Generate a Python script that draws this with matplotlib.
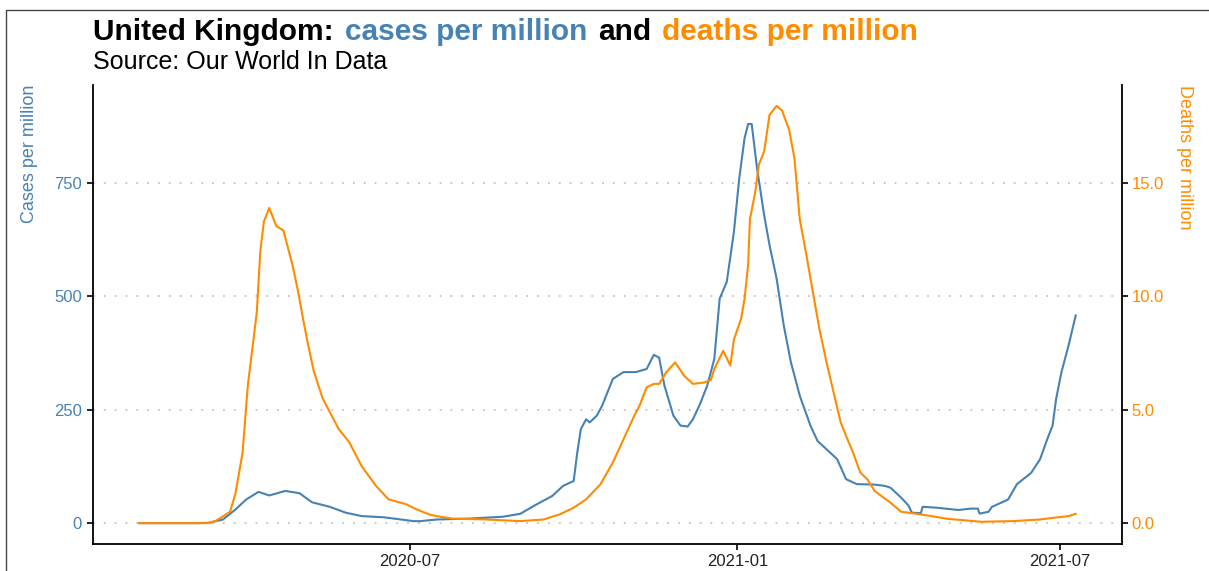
import matplotlib
matplotlib.use('Agg')
import matplotlib.pyplot as plt
import matplotlib.dates as mdates
import matplotlib.ticker as mticker
import pandas as pd
from matplotlib.patches import Rectangle

# ---------------- data ----------------
case_dates = ['2020-01-31', '2020-03-03', '2020-03-10', '2020-03-18', '2020-03-25', '2020-03-31',
              '2020-04-07', '2020-04-13', '2020-04-22', '2020-04-30', '2020-05-07', '2020-05-17',
              '2020-05-26', '2020-06-04', '2020-06-16', '2020-06-23', '2020-07-03', '2020-07-07',
              '2020-07-16', '2020-08-03', '2020-08-22', '2020-09-01', '2020-09-10', '2020-09-19',
              '2020-09-25', '2020-10-01', '2020-10-03', '2020-10-05', '2020-10-08', '2020-10-10',
              '2020-10-14', '2020-10-17', '2020-10-23', '2020-10-29', '2020-11-05', '2020-11-11',
              '2020-11-15', '2020-11-18', '2020-11-21', '2020-11-26', '2020-11-30', '2020-12-04',
              '2020-12-07', '2020-12-11', '2020-12-15', '2020-12-19', '2020-12-22', '2020-12-26',
              '2020-12-30', '2021-01-02', '2021-01-05', '2021-01-07', '2021-01-09', '2021-01-12',
              '2021-01-16', '2021-01-19', '2021-01-23', '2021-01-27', '2021-01-31', '2021-02-05',
              '2021-02-11', '2021-02-15', '2021-02-20', '2021-02-26', '2021-03-03', '2021-03-09',
              '2021-03-19', '2021-03-25', '2021-03-28', '2021-04-03', '2021-04-07', '2021-04-09',
              '2021-04-14', '2021-04-15', '2021-04-23', '2021-05-05', '2021-05-12', '2021-05-16',
              '2021-05-17', '2021-05-22', '2021-05-24', '2021-06-02', '2021-06-07', '2021-06-15',
              '2021-06-20', '2021-06-24', '2021-06-27', '2021-06-29', '2021-07-02', '2021-07-06',
              '2021-07-10']
cases = [0, 0, 0.7, 8, 30, 52,
         69, 61, 71, 66, 46, 36,
         23, 15.5, 13, 9.6, 4.4, 4.4,
         8, 10, 14, 20.6, 41, 60,
         82, 93, 155, 207, 229, 222,
         237, 259, 318, 333, 333, 340,
         371, 365, 303, 237, 215, 213,
         229, 263, 303, 362, 495, 532,
         642, 760, 849, 880, 880, 782,
         679, 613, 539, 436, 355, 281,
         215, 181, 163, 141, 97, 86,
         85, 82, 78, 56, 39, 23,
         22, 36, 34, 29, 32, 32,
         21, 25, 36, 52, 86, 111,
         141, 185, 215, 274, 333, 392,
         458]

death_dates = ['2020-01-31', '2020-03-10', '2020-03-14', '2020-03-22', '2020-03-25', '2020-03-29',
               '2020-04-01', '2020-04-04', '2020-04-06', '2020-04-08', '2020-04-10', '2020-04-13',
               '2020-04-17', '2020-04-21', '2020-04-23', '2020-04-26', '2020-04-29', '2020-05-02',
               '2020-05-05', '2020-05-08', '2020-05-13', '2020-05-17', '2020-05-22', '2020-05-28',
               '2020-06-04', '2020-06-12', '2020-06-19', '2020-06-29', '2020-07-05', '2020-07-12',
               '2020-07-16', '2020-07-25', '2020-08-13', '2020-09-01', '2020-09-14', '2020-09-23',
               '2020-10-01', '2020-10-08', '2020-10-16', '2020-10-23', '2020-10-29', '2020-11-04',
               '2020-11-07', '2020-11-11', '2020-11-15', '2020-11-18', '2020-11-22', '2020-11-27',
               '2020-12-02', '2020-12-07', '2020-12-13', '2020-12-17', '2020-12-19', '2020-12-24',
               '2020-12-28', '2020-12-30', '2021-01-03', '2021-01-05', '2021-01-07', '2021-01-08',
               '2021-01-11', '2021-01-13', '2021-01-16', '2021-01-19', '2021-01-23', '2021-01-26',
               '2021-01-30', '2021-02-02', '2021-02-05', '2021-02-09', '2021-02-13', '2021-02-16',
               '2021-02-20', '2021-02-24', '2021-02-28', '2021-03-03', '2021-03-07', '2021-03-11',
               '2021-03-15', '2021-03-19', '2021-03-23', '2021-03-28', '2021-04-03', '2021-04-10',
               '2021-04-20', '2021-04-29', '2021-05-18', '2021-06-05', '2021-06-20', '2021-06-28',
               '2021-07-06', '2021-07-10']
deaths = [0, 0, 0.1, 0.5, 1.3, 3.1,
          6.1, 8.0, 9.3, 12.0, 13.3, 13.9,
          13.1, 12.9, 12.3, 11.4, 10.3, 9.0,
          7.8, 6.7, 5.5, 4.9, 4.15, 3.56,
          2.5, 1.64, 1.05, 0.83, 0.6, 0.38,
          0.31, 0.2, 0.16, 0.09, 0.16, 0.38,
          0.68, 1.05, 1.71, 2.67, 3.7, 4.73,
          5.18, 5.99, 6.14, 6.14, 6.65, 7.09,
          6.5, 6.14, 6.2, 6.3, 6.8, 7.6,
          6.95, 8.1, 9.0, 9.9, 11.4, 13.4,
          14.6, 15.8, 16.4, 18.0, 18.4, 18.2,
          17.35, 16.1, 13.4, 11.7, 9.9, 8.57,
          7.1, 5.77, 4.44, 3.85, 3.1, 2.23,
          1.93, 1.42, 1.19, 0.9, 0.5, 0.43,
          0.31, 0.19, 0.06, 0.09, 0.16, 0.24,
          0.31, 0.41]

case_ticks = [0, 250, 500, 750]
death_ticks = [0, 5, 10, 15]
x_ticks = ['2020-07-01', '2021-01-01', '2021-07-01']

# ---------------- styling ----------------
BLUE = '#4682B4'
ORANGE = '#FF8C00'
W, H = 1209, 571
SANS = ['Liberation Sans', 'DejaVu Sans']
NARROW = ['Liberation Sans Narrow', 'DejaVu Sans Condensed', 'Liberation Sans']

fig = plt.figure(figsize=(W / 100, H / 100), dpi=100)
fig.patch.set_facecolor('white')

ax = fig.add_axes([93 / W, 1 - 544 / H, (1122 - 93) / W, (544 - 85) / H])
ax2 = ax.twinx()

cd = pd.to_datetime(case_dates)
dd = pd.to_datetime(death_dates)
ax.plot(cd, cases, color=BLUE, lw=1.5, solid_joinstyle='round')
ax2.plot(dd, deaths, color=ORANGE, lw=1.5, solid_joinstyle='round')

ax.set_xlim(pd.Timestamp('2020-01-05'), pd.Timestamp('2021-08-05'))
ax.set_ylim(-46, 966)
ax2.set_ylim(-46 / 50, 966 / 50)

ax.set_yticks(case_ticks)
ax2.set_yticks(death_ticks)
ax2.yaxis.set_major_formatter(mticker.FormatStrFormatter('%.1f'))
ax.set_xticks(pd.to_datetime(x_ticks))
ax.xaxis.set_major_formatter(mdates.DateFormatter('%Y-%m'))

ax.grid(axis='y', color='#c4c4c4', linestyle=(0, (1, 5)), linewidth=1.3)
ax.grid(axis='x', visible=False)
ax.set_axisbelow(True)

for s in ['top', 'right']:
    ax.spines[s].set_visible(False)
for s in ['top', 'left', 'bottom']:
    ax2.spines[s].set_visible(False)
for a, s in [(ax, 'left'), (ax, 'bottom'), (ax2, 'right')]:
    a.spines[s].set_linewidth(1.3)
    a.spines[s].set_color('black')

ax.tick_params(axis='y', length=4, width=1.2, pad=4, labelcolor=BLUE, labelsize=12)
ax2.tick_params(axis='y', length=4, width=1.2, pad=3, labelcolor=ORANGE, labelsize=12)
ax.tick_params(axis='x', length=4, width=1.2, pad=3, labelcolor='#222222', labelsize=12)
for lab in ax.get_yticklabels() + ax2.get_yticklabels() + ax.get_xticklabels():
    lab.set_family(SANS)

# axis titles
fig.text(30 / W, 1 - 85 / H, 'Cases per million', rotation=90, ha='center', va='top',
         color=BLUE, fontsize=13, family=NARROW, fontweight='medium')
fig.text(1185 / W, 1 - 85 / H, 'Deaths per million', rotation=270, ha='center', va='top',
         color=ORANGE, fontsize=13, family=NARROW, fontweight='medium')

# title made of coloured pieces
TSIZE = 21.5
pieces = [('United Kingdom:', 'black'), ('cases per million', BLUE),
          ('and', 'black'), ('deaths per million', ORANGE)]
space = 8
prev = None
for txt, col in pieces:
    if prev is None:
        prev = fig.text(93 / W, 1 - 40 / H, txt, color=col, fontsize=TSIZE, fontweight='bold',
                        family=SANS, va='baseline', ha='left')
    else:
        prev = ax.annotate(txt, xy=(1, 0), xycoords=prev, xytext=(space, 0),
                           textcoords='offset points', color=col, fontsize=TSIZE,
                           fontweight='bold', family=SANS, va='bottom', ha='left',
                           annotation_clip=False)
fig.text(93 / W, 1 - 69 / H, 'Source: Our World In Data', color='black', fontsize=18,
         family=SANS, va='baseline', ha='left')

# outer frame of the plot background
fig.add_artist(Rectangle((6 / W, -0.05), 1.2, 1 - 10 / H + 0.05, transform=fig.transFigure,
                         fill=False, edgecolor='#444444', lw=1.0))

fig.savefig('out.png', dpi=100)
